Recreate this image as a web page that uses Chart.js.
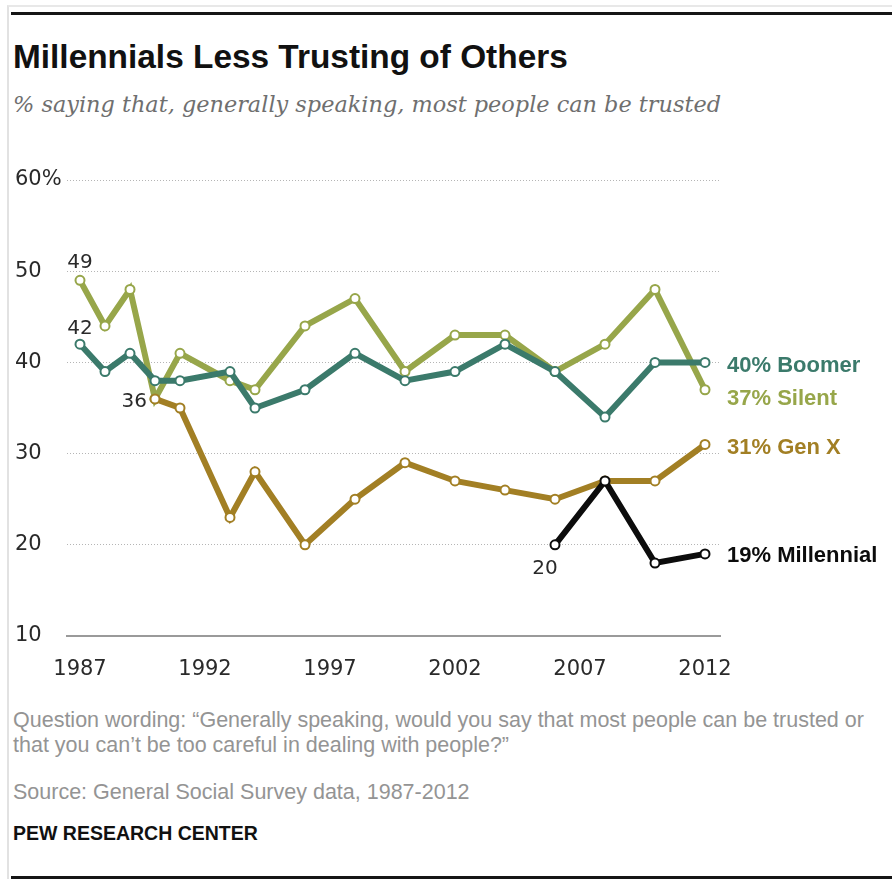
<!DOCTYPE html>
<html>
<head>
<meta charset="utf-8">
<script src="https://cdn.jsdelivr.net/npm/chart.js@4.4.1/dist/chart.umd.min.js"></script>
<style>
  html, body { margin: 0; padding: 0; background: #fff; }
  body { width: 892px; height: 879px; position: relative; overflow: hidden; }
  .frame { position: absolute; left: 7px; top: 5px; right: 0; bottom: 0; border-left: 2px solid #e2e2e2; border-top: 2px solid #e8e8e8; }
  .rule { position: absolute; left: 11px; right: 0; height: 3px; background: #151515; }
  .txt { position: absolute; left: 13px; white-space: nowrap; }
  #title { top: 40px; font: bold 33.4px/33px "Liberation Sans", Arial, sans-serif; color: #111; }
  #subtitle { top: 93px; font: italic 22.4px/22px "DejaVu Serif", Georgia, serif; color: #6f6f6f; }
  .note { font: 21.5px/25px "Liberation Sans", Arial, sans-serif; color: #949494; }
  #brand { top: 821px; font: bold 19.5px/25px "Liberation Sans", Arial, sans-serif; color: #111; }
  #wrap { position: absolute; left: 0; top: 150px; width: 892px; height: 540px; }
</style>
</head>
<body>
<div class="frame"></div>
<div class="rule" style="top:12px"></div>
<div class="rule" style="top:876px"></div>
<div class="txt" id="title">Millennials Less Trusting of Others</div>
<div class="txt" id="subtitle">% saying that, generally speaking, most people can be trusted</div>
<div id="wrap"><canvas id="trustChart"></canvas></div>
<div class="txt note" style="top:708px">Question wording: “Generally speaking, would you say that most people can be trusted or<br>that you can’t be too careful in dealing with people?”</div>
<div class="txt note" style="top:780px">Source: General Social Survey data, 1987-2012</div>
<div class="txt" id="brand">PEW RESEARCH CENTER</div>

<script>
// GSS survey years and share saying most people can be trusted
const years = [1987, 1988, 1989, 1990, 1991, 1993, 1994, 1996, 1998, 2000, 2002, 2004, 2006, 2008, 2010, 2012];
const silent = [49, 44, 48, 36, 41, 38, 37, 44, 47, 39, 43, 43, 39, 42, 48, 37];
const boomer = [42, 39, 41, 38, 38, 39, 35, 37, 41, 38, 39, 42, 39, 34, 40, 40];
const genX = [null, null, null, 36, 35, 23, 28, 20, 25, 29, 27, 26, 25, 27, 27, 31];
const millennial = [null, null, null, null, null, null, null, null, null, null, null, null, 20, 27, 18, 19];

const xTicks = [1987, 1992, 1997, 2002, 2007, 2012];
const yTicks = [10, 20, 30, 40, 50, 60];

const seriesNames = ['Millennial', 'Gen X', 'Boomer', 'Silent'];
const seriesValues = [millennial, genX, boomer, silent];
const seriesColors = ['#0c0c0c', '#a27f24', '#3b7a6b', '#97a64a'];

// labels at the end of each line, plus a few start-point callouts
const endLabelOffset = { 'Millennial': 2, 'Gen X': 3, 'Boomer': 4, 'Silent': 9 };
const callouts = [
  { series: 'Silent', year: 1987, dx: 0, dy: -18, align: 'center' },
  { series: 'Boomer', year: 1987, dx: 0, dy: -15, align: 'center' },
  { series: 'Gen X', year: 1990, dx: -8, dy: 3, align: 'right' },
  { series: 'Millennial', year: 2006, dx: -10, dy: 24, align: 'center' }
];

const toPoints = vals => years.map((yr, i) => ({ x: yr, y: vals[i] }));

const datasets = seriesNames.map((name, i) => ({
  label: name,
  data: toPoints(seriesValues[i]),
  order: i,
  borderColor: seriesColors[i],
  backgroundColor: seriesColors[i],
  borderWidth: 6,
  pointRadius: 4.5,
  pointBorderWidth: 2,
  pointBackgroundColor: '#fff',
  pointBorderColor: seriesColors[i],
  tension: 0,
  spanGaps: false
}));

const lineLabels = {
  id: 'lineLabels',
  afterDatasetsDraw(chart) {
    const ctx = chart.ctx;
    ctx.save();
    ctx.textBaseline = 'middle';

    chart.data.datasets.forEach((ds, di) => {
      const meta = chart.getDatasetMeta(di);
      const values = seriesValues[di];
      const last = values.length - 1;
      const pt = meta.data[last];
      ctx.font = 'bold 22px "Liberation Sans", Arial, sans-serif';
      ctx.fillStyle = ds.borderColor;
      ctx.textAlign = 'left';
      ctx.fillText(values[last] + '% ' + ds.label, pt.x + 22, pt.y + endLabelOffset[ds.label]);
    });

    ctx.font = '20px "DejaVu Sans", sans-serif';
    ctx.fillStyle = '#2a2a2a';
    callouts.forEach(c => {
      const di = seriesNames.indexOf(c.series);
      const idx = years.indexOf(c.year);
      const pt = chart.getDatasetMeta(di).data[idx];
      ctx.textAlign = c.align;
      ctx.fillText(String(seriesValues[di][idx]), pt.x + c.dx, pt.y + c.dy);
    });
    ctx.restore();
  }
};

const tickFont = { family: '"DejaVu Sans", sans-serif', size: 21 };

new Chart(document.getElementById('trustChart'), {
  type: 'line',
  data: { datasets },
  options: {
    responsive: true,
    maintainAspectRatio: false,
    animation: false,
    layout: { padding: { top: 30, left: 15, right: 172, bottom: 4 } },
    plugins: { legend: { display: false }, tooltip: { enabled: false } },
    scales: {
      x: {
        type: 'linear',
        min: 1986.48,
        max: 2012.6,
        afterBuildTicks: scale => { scale.ticks = xTicks.map(v => ({ value: v })); },
        afterFit: scale => { scale.height = 50; },
        grid: { display: false, drawTicks: false },
        border: { display: true, color: '#9a9a9a', width: 2 },
        ticks: { font: tickFont, color: '#2a2a2a', padding: 21, maxRotation: 0, callback: v => String(v) }
      },
      y: {
        min: 10,
        max: 60,
        afterBuildTicks: scale => { scale.ticks = yTicks.map(v => ({ value: v })); },
        afterFit: scale => { scale.width = 52; },
        grid: { color: '#b5b5b5', lineWidth: 1, drawTicks: false },
        border: { display: false, dash: [1, 2] },
        ticks: { font: tickFont, color: '#2a2a2a', padding: 0, crossAlign: 'far', callback: v => v === 60 ? '60%' : String(v) }
      }
    }
  },
  plugins: [lineLabels]
});
</script>
</body>
</html>
